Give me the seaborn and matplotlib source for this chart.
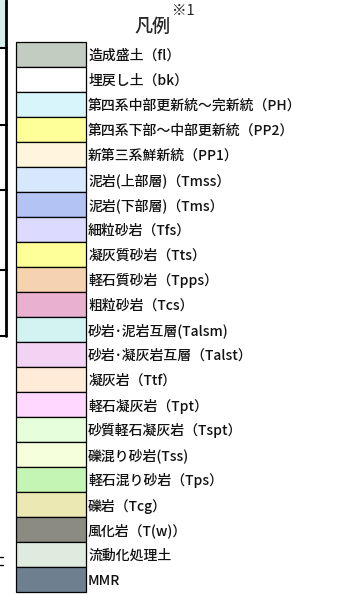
import matplotlib
matplotlib.use("Agg")
import matplotlib.pyplot as plt
import seaborn as sns
import pandas as pd
from matplotlib.lines import Line2D
from matplotlib.patches import Rectangle

# legend entries (top to bottom)
labels = [
    "造成盛土（fl）",
    "埋戻し土（bk）",
    "第四系中部更新統～完新統（PH）",
    "第四系下部～中部更新統（PP2）",
    "新第三系鮮新統（PP1）",
    "泥岩(上部層)（Tmss）",
    "泥岩(下部層)（Tms）",
    "細粒砂岩（Tfs）",
    "凝灰質砂岩（Tts）",
    "軽石質砂岩（Tpps）",
    "粗粒砂岩（Tcs）",
    "砂岩･泥岩互層(Talsm)",
    "砂岩･凝灰岩互層（Talst）",
    "凝灰岩（Ttf）",
    "軽石凝灰岩（Tpt）",
    "砂質軽石凝灰岩（Tspt）",
    "礫混り砂岩(Tss)",
    "軽石混り砂岩（Tps）",
    "礫岩（Tcg）",
    "風化岩（T(w)）",
    "流動化処理土",
    "MMR",
]
colors = [
    "#C3CCC0", "#FFFFFF", "#D9F5FC", "#FFFF99", "#FFF5DC", "#D8E8FC",
    "#B3C3F3", "#DCDAFE", "#FFFF99", "#F5D3B0", "#E9B1CF", "#D3F3F3",
    "#F3D3F3", "#FFEBD7", "#FFD7FF", "#E6FFDA", "#F6FFDC", "#C4F5B4",
    "#EBE8B4", "#8C8B82", "#E0EBE0", "#6E7F8F",
]
title = "凡例"
note = "※1"

sns.set_style("white")
plt.rcParams['font.family'] = ['Noto Sans CJK JP', 'DejaVu Sans']

W, H = 339, 594
fig = plt.figure(figsize=(W / 100, H / 100), dpi=100)
ax = fig.add_axes([16 / W, (H - 592) / H, 70 / W, 550 / H])

df = pd.DataFrame({"layer": labels, "w": [1] * len(labels)})
sns.barplot(data=df, x="w", y="layer", hue="layer", palette=colors,
            legend=False, width=1.0, saturation=1, edgecolor="black",
            linewidth=0.9, orient="h", ax=ax)
for p in ax.patches:
    p.set_clip_on(False)

ax.set_xlim(0, 1)
ax.set_ylim(len(labels) - 0.5, -0.5)
ax.set_xticks([])
ax.set_xlabel("")
ax.set_ylabel("")
ax.yaxis.tick_right()
ax.tick_params(axis="y", length=0, pad=1.5, labelsize=10)
for lab in ax.get_yticklabels():
    lab.set_va("center_baseline")
    lab.set_fontweight("medium")
    lab.set_color("#111111")
for s in ax.spines.values():
    s.set_visible(False)

fig.text(152 / W, 1 - 27 / H, title, ha="center", va="center",
         fontsize=13, fontweight="medium")
fig.text(172 / W, 1 - 11 / H, note, ha="left", va="center", fontsize=10.5)

# cropped table edge on the left
fig.add_artist(Rectangle((0, 1 - 47 / H), 5 / W, 47 / H, facecolor="#D6EEEC",
                         edgecolor="none", transform=fig.transFigure))
fig.add_artist(Line2D([5.5 / W, 5.5 / W], [1, 1 - 336 / H], color="black",
                      lw=2, transform=fig.transFigure))
for y in [48, 125, 190, 270, 336]:
    fig.add_artist(Line2D([0, 6.5 / W], [1 - y / H, 1 - y / H], color="black",
                          lw=1.5, transform=fig.transFigure))
for y in [557, 565]:
    fig.add_artist(Line2D([0, 3 / W], [1 - y / H, 1 - y / H], color="black",
                          lw=1, transform=fig.transFigure))

fig.savefig("out.png", dpi=100)
